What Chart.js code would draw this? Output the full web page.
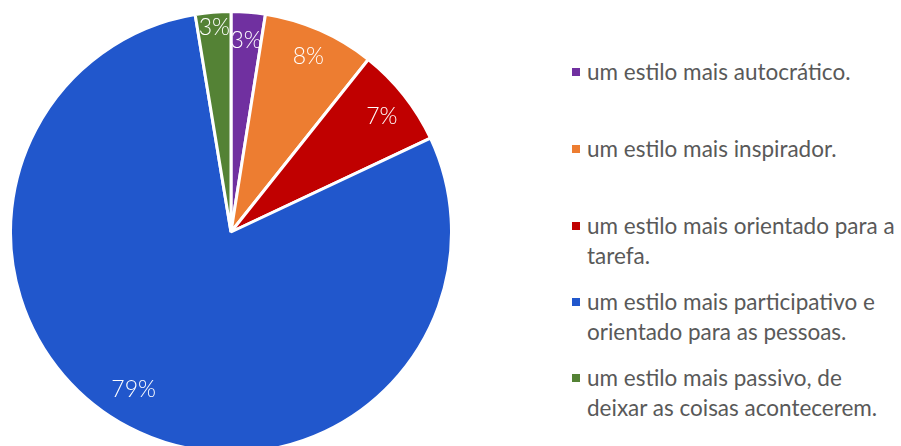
<!DOCTYPE html>
<html lang="pt">
<head>
    <meta charset="UTF-8">
    <title>Estilo de liderança</title>
    <script src="https://cdn.jsdelivr.net/npm/chart.js@4.4.1/dist/chart.umd.min.js"></script>
    <style>
        html, body { margin: 0; padding: 0; background: #fff; overflow: hidden; width: 901px; height: 446px; }
        #pieBox { position: absolute; left: 9px; top: 10px; width: 444px; height: 444px; }
        #legend { position: absolute; left: 572px; top: 0; font-family: Lato, sans-serif; font-size: 22.5px; color: #595959; }
        .item { position: absolute; left: 0; width: 330px; line-height: 30px; padding-left: 15px; white-space: nowrap; }
        .item span.box { position: absolute; left: 0; top: 11px; width: 8px; height: 8px; }
    </style>
</head>
<body>
    <div id="pieBox"><canvas id="myChart"></canvas></div>
    <div id="legend"></div>
    <script>
        // dados (sentido horário a partir do topo)
        const labels = [
            'um estilo mais autocrático.',
            'um estilo mais inspirador.',
            'um estilo mais orientado para a tarefa.',
            'um estilo mais participativo e orientado para as pessoas.',
            'um estilo mais passivo, de deixar as coisas acontecerem.'
        ];
        const values = [2.5, 8.2, 7.3, 79.4, 2.6];
        const colors = ['#7030A0', '#ED7D31', '#C00000', '#2157CC', '#548235'];
        // quebras de linha da legenda, como no original
        const legendLines = [
            ['um estilo mais autocrático.'],
            ['um estilo mais inspirador.'],
            ['um estilo mais orientado para a', 'tarefa.'],
            ['um estilo mais participativo e', 'orientado para as pessoas.'],
            ['um estilo mais passivo, de', 'deixar as coisas acontecerem.']
        ];
        const legendTops = [57, 134, 211, 287, 363];

        const total = values.reduce((a, b) => a + b, 0);

        // posição dos rótulos: fração do raio e desvio angular (graus)
        const labelRadius = [0.87, 0.87, 0.86, 0.84, 0.93];
        const labelShift = [0, 0, 1, 4, 0];

        const pctLabels = {
            id: 'pctLabels',
            afterDatasetsDraw(chart) {
                const ctx = chart.ctx;
                const meta = chart.getDatasetMeta(0);
                ctx.save();
                ctx.fillStyle = '#fff';
                ctx.font = '300 23px Lato, sans-serif';
                ctx.textAlign = 'center';
                ctx.textBaseline = 'middle';
                meta.data.forEach((arc, i) => {
                    const p = arc.getProps(['x', 'y', 'startAngle', 'endAngle', 'outerRadius']);
                    const mid = (p.startAngle + p.endAngle) / 2 + labelShift[i] * Math.PI / 180;
                    const r = p.outerRadius * labelRadius[i];
                    const txt = Math.round(values[i] / total * 100) + '%';
                    ctx.fillText(txt, p.x + Math.cos(mid) * r, p.y + Math.sin(mid) * r);
                });
                ctx.restore();
            }
        };

        new Chart(document.getElementById('myChart'), {
            type: 'pie',
            data: {
                labels: labels,
                datasets: [{
                    data: values,
                    backgroundColor: colors,
                    borderColor: '#ffffff',
                    borderWidth: 3
                }]
            },
            options: {
                responsive: true,
                maintainAspectRatio: false,
                animation: false,
                layout: { padding: 0 },
                plugins: {
                    legend: { display: false },
                    tooltip: { enabled: false }
                }
            },
            plugins: [pctLabels]
        });

        const legend = document.getElementById('legend');
        legendLines.forEach((lines, i) => {
            const div = document.createElement('div');
            div.className = 'item';
            div.style.top = legendTops[i] + 'px';
            div.innerHTML = '<span class="box" style="background:' + colors[i] + '"></span>' + lines.join('<br>');
            legend.appendChild(div);
        });
    </script>
</body>
</html>
